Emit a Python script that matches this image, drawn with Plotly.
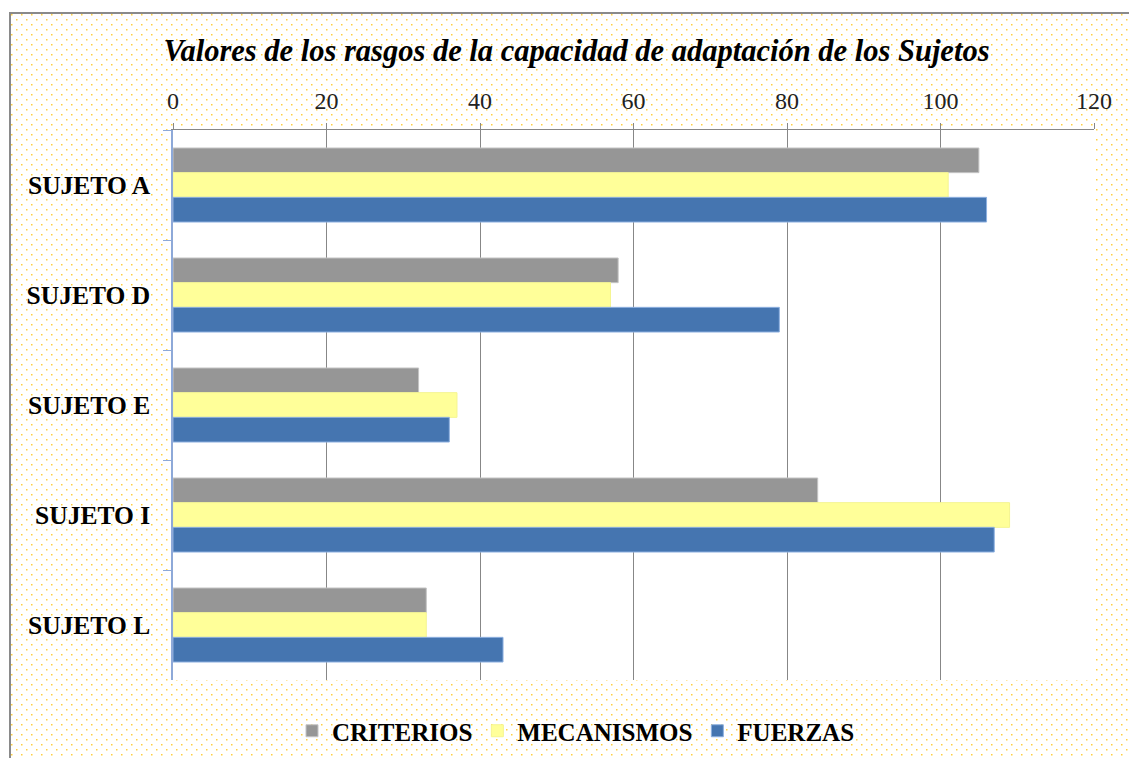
import base64
import plotly.graph_objects as go

# ---- data ----
categories = ["SUJETO A", "SUJETO D", "SUJETO E", "SUJETO I", "SUJETO L"]
criterios = [105, 58, 32, 84, 33]
mecanismos = [101, 57, 37, 109, 33]
fuerzas = [106, 79, 36, 107, 43]
series_names = ["CRITERIOS", "MECANISMOS", "FUERZAS"]
title_text = "Valores de los rasgos de la capacidad de adaptación de los Sujetos"

# ---- layout geometry (pixels) ----
FW, FH = 1129, 758
L, R, T, B = 173, 35, 130, 78
PW, PH = FW - L - R, FH - T - B

def px_x(p):
    return (p - L) / PW

def px_y(p):
    return (FH - B - p) / PH

serif = "Liberation Serif"

fig = go.Figure()
colors = ["#969696", "#FFFF99", "#4575B0"]
lines = ["#C4C4C4", "#F5F590", "#8DB0E0"]
for name, vals, c, lc in zip(series_names, [criterios, mecanismos, fuerzas], colors, lines):
    fig.add_trace(go.Bar(
        y=categories, x=vals, name=name, orientation="h",
        marker=dict(color=c, line=dict(color=lc, width=1)),
    ))

# dotted background pattern with border (left/top visible)
BW, BH = FW - 9, FH - 12
svg = (
    f'<svg xmlns="http://www.w3.org/2000/svg" width="{BW}" height="{BH}" viewBox="0 0 {BW} {BH}">'
    '<defs><pattern id="p" width="10" height="10" patternUnits="userSpaceOnUse">'
    '<rect x="2" y="2" width="1.5" height="1.5" fill="#FFC000"/>'
    '<rect x="7" y="7" width="1.5" height="1.5" fill="#FFC000"/>'
    '</pattern></defs>'
    f'<rect width="{BW}" height="{BH}" fill="white"/>'
    f'<rect width="{BW}" height="{BH}" fill="url(#p)" opacity="0.75"/>'
    f'<path d="M1,{BH} V1 H{BW}" stroke="#8A8A8A" stroke-width="2" fill="none"/>'
    '</svg>'
)
uri = "data:image/svg+xml;base64," + base64.b64encode(svg.encode()).decode()

fig.update_layout(
    width=FW, height=FH,
    margin=dict(l=L, r=R, t=T, b=B, autoexpand=False),
    paper_bgcolor="white", plot_bgcolor="white",
    barmode="group", bargap=0.327, bargroupgap=0,
    title=dict(
        text=title_text, xref="container", x=576.5 / FW, xanchor="center",
        yref="container", y=1 - 50 / FH, yanchor="middle",
        font=dict(family=serif, size=30.5, color="black", weight="bold", style="italic"),
    ),
    xaxis=dict(
        side="top", range=[0, 120], tick0=0, dtick=20,
        showgrid=True, gridcolor="#878787", gridwidth=1,
        showline=True, linecolor="#878787", linewidth=1,
        ticks="outside", ticklen=6, tickcolor="#878787",
        ticklabelstandoff=4,
        tickfont=dict(family=serif, size=24, color="#222222"),
        zeroline=False,
    ),
    yaxis=dict(
        type="category", autorange="reversed",
        showline=True, linecolor="#8EA9D8", linewidth=1.5,
        ticks="outside", tickson="boundaries", ticklen=8, tickcolor="#8EA9D8",
        ticklabelstandoff=16,
        tickfont=dict(family=serif, size=25.5, color="black", weight="bold"),
        showgrid=False, zeroline=False,
    ),
    legend=dict(
        orientation="h", x=px_x(576), xanchor="center",
        y=px_y(731), yanchor="middle",
        font=dict(family=serif, size=25, color="black", weight="bold"),
        bgcolor="rgba(0,0,0,0)", traceorder="normal", itemwidth=30,
    ),
    images=[dict(
        source=uri, xref="paper", yref="paper",
        x=px_x(9), y=px_y(12), sizex=BW / PW, sizey=BH / PH,
        xanchor="left", yanchor="top", sizing="stretch", layer="below",
    )],
    shapes=[dict(
        type="rect", xref="x domain", yref="y domain", x0=0, x1=1, y0=0, y1=1,
        fillcolor="white", line=dict(width=0), layer="below",
    )],
)

fig.write_html("out.html", config={"displayModeBar": False},
               post_script="document.body.style.margin='0';")
